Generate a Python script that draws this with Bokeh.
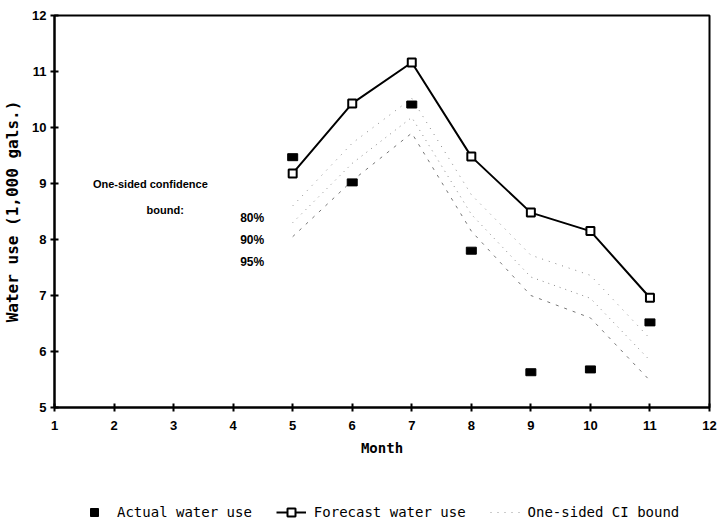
from bokeh.plotting import figure
from bokeh.models import Legend, LegendItem, Label, FixedTicker, Range1d
from bokeh.layouts import column
from bokeh.embed import file_html
from bokeh.resources import INLINE

months = [5, 6, 7, 8, 9, 10, 11]
actual = [9.47, 9.02, 10.41, 7.80, 5.63, 5.68, 6.52]
forecast = [9.18, 10.43, 11.16, 9.48, 8.48, 8.15, 6.96]
ci80 = [8.60, 9.72, 10.52, 8.80, 7.72, 7.36, 6.23]
ci90 = [8.30, 9.36, 10.18, 8.45, 7.33, 6.95, 5.84]
ci95 = [8.05, 9.05, 9.90, 8.15, 7.00, 6.60, 5.48]

x_ticks = list(range(1, 13))
y_ticks = list(range(5, 13))

note_lines = ["One-sided confidence", "bound:"]
note_x = [2.61, 2.86]
note_y = [9.0, 8.52]
pct_labels = ["80%", "90%", "95%"]
pct_x = 4.32
pct_y = [8.39, 8.00, 7.59]

legend_labels = ["Actual water use", "Forecast water use", "One-sided CI bound"]

FONT = "Liberation Sans"
MONO = "DejaVu Sans Mono"

p = figure(output_backend="svg", toolbar_location=None,
           x_range=Range1d(1, 12), y_range=Range1d(5, 12),
           frame_width=655, frame_height=392,
           min_border_left=51, min_border_right=8, min_border_top=15,
           min_border_bottom=0)
p.xgrid.visible = False
p.ygrid.visible = False
p.outline_line_color = "black"
p.outline_line_width = 2
p.background_fill_color = "white"
p.border_fill_color = "white"

for ax in (p.xaxis[0], p.yaxis[0]):
    ax.axis_line_width = 2
    ax.axis_line_color = "black"
    ax.major_tick_line_width = 2
    ax.major_tick_in = 4
    ax.major_tick_out = 4
    ax.minor_tick_line_color = None
    ax.major_label_text_font = FONT
    ax.major_label_text_font_style = "bold"
    ax.major_label_text_font_size = "13px"
    ax.major_label_text_color = "black"
    ax.axis_label_text_color = "black"
p.xaxis.ticker = FixedTicker(ticks=x_ticks)
p.yaxis.ticker = FixedTicker(ticks=y_ticks)
p.xaxis.major_label_standoff = 9
p.yaxis.major_label_standoff = 4
p.xaxis.axis_label = "Month"
p.xaxis.axis_label_text_font = MONO
p.xaxis.axis_label_text_font_size = "14px"
p.xaxis.axis_label_text_font_style = "bold"
p.xaxis.axis_label_standoff = 7
p.yaxis.axis_label = "Water use (1,000 gals.)"
p.yaxis.axis_label_text_font = MONO
p.yaxis.axis_label_text_font_size = "16px"
p.yaxis.axis_label_text_font_style = "bold"
p.yaxis.axis_label_standoff = 7

p.line(months, ci80, line_color="#888888", line_width=1, line_dash="1 6")
p.line(months, ci90, line_color="#888888", line_width=1, line_dash="1 5")
p.line(months, ci95, line_color="#777777", line_width=1, line_dash="3 6")

p.line(months, forecast, line_color="black", line_width=2)
p.scatter(months, forecast, marker="square", size=8, fill_color="white",
          line_color="black", line_width=2)
p.rect(months, actual, width=10, height=7, width_units="screen",
       height_units="screen", fill_color="black", line_color="black")

for t, x, y in zip(note_lines, note_x, note_y):
    p.add_layout(Label(x=x, y=y, text=t, text_align="center", text_baseline="middle",
                       text_font=FONT, text_font_style="bold", text_font_size="11px",
                       text_color="black"))
for t, y in zip(pct_labels, pct_y):
    p.add_layout(Label(x=pct_x, y=y, text=t, text_align="center", text_baseline="middle",
                       text_font=FONT, text_font_style="bold", text_font_size="12px",
                       text_color="black"))

# legend strip as a second, axis-less figure; its glyphs hold the real data,
# which lies outside this strip's ranges so only the legend swatches show
p2 = figure(output_backend="svg", toolbar_location=None,
            x_range=Range1d(0, 1), y_range=Range1d(0, 1),
            frame_width=655, frame_height=70,
            min_border_left=51, min_border_right=8, min_border_top=0,
            min_border_bottom=0, x_axis_location=None, y_axis_location=None)
p2.xgrid.visible = False
p2.ygrid.visible = False
p2.outline_line_color = None
p2.border_fill_color = "white"
la = p2.scatter(months, actual, marker="square", size=11, fill_color="black",
                line_color="black")
lf = p2.line(months, forecast, line_color="black", line_width=2)
lfm = p2.scatter(months, forecast, marker="square", size=8, fill_color="white",
                 line_color="black", line_width=2)
lc = p2.line(months, ci80, line_color="#999999", line_width=1, line_dash="1 6")

legend = Legend(items=[
    LegendItem(label=legend_labels[0], renderers=[la]),
    LegendItem(label=legend_labels[1], renderers=[lf, lfm]),
    LegendItem(label=legend_labels[2], renderers=[lc]),
], orientation="horizontal", location=(25, 6), border_line_color=None,
    background_fill_alpha=0, label_text_font=MONO, label_text_font_size="14px",
    label_text_color="black",
    label_standoff=8, spacing=24, glyph_width=30, padding=0, margin=0)
p2.add_layout(legend, "center")

open("out.html", "w").write(file_html(column(p, p2, spacing=0), INLINE))
